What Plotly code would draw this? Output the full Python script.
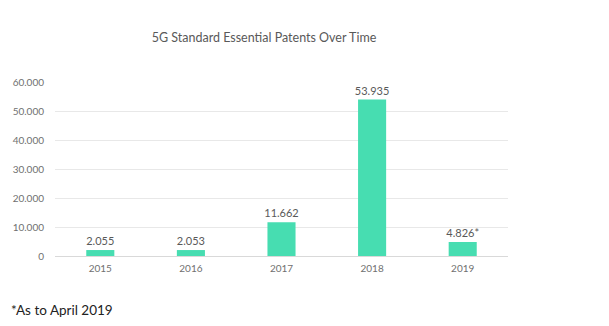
import plotly.graph_objects as go

years = ["2015", "2016", "2017", "2018", "2019"]
patents = [2055, 2053, 11662, 53935, 4826]
label_suffix = ["", "", "", "", "*"]
y_ticks = [0, 10000, 20000, 30000, 40000, 50000, 60000]

def fmt(v):
    return f"{v:,}".replace(",", ".")

labels = [fmt(v) + s for v, s in zip(patents, label_suffix)]

FONT = "Lato"

fig = go.Figure(go.Bar(
    x=years, y=patents, text=labels, textposition="outside",
    textfont=dict(size=11, color="#595959", family=FONT),
    marker=dict(color="#47DDB1", line=dict(width=0)),
    width=0.31, cliponaxis=False, constraintext="none",
))

fig.update_layout(
    width=609, height=326,
    margin=dict(l=55, r=101, t=82, b=70),
    paper_bgcolor="white", plot_bgcolor="white",
    separators=",.",
    title=dict(text="5G Standard Essential Patents Over Time", x=264/609, xanchor="center",
               y=1 - 38/326, yanchor="middle",
               font=dict(size=12.5, color="#595959", family=FONT)),
    font=dict(family=FONT, color="#595959"),
    showlegend=False,
)
fig.update_yaxes(range=[0, 60000], tickvals=y_ticks, tickformat=",d",
                 showgrid=True, gridcolor="#E8E8E8", gridwidth=1,
                 zeroline=True, zerolinecolor="#D9D9D9", zerolinewidth=1,
                 tickfont=dict(size=10, color="#707070"), ticks="", ticklabelstandoff=10,
                 showline=False)
fig.update_xaxes(tickfont=dict(size=10, color="#707070"), showline=False, ticks="",
                 ticklabelstandoff=5)

fig.add_annotation(text="*As to April 2019", xref="paper", yref="paper",
                   x=(9 - 55)/453, y=-(310 - 256)/174, xanchor="left", yanchor="middle",
                   showarrow=False, font=dict(size=13.5, color="#222222", family=FONT))

fig.write_html("out.html")
